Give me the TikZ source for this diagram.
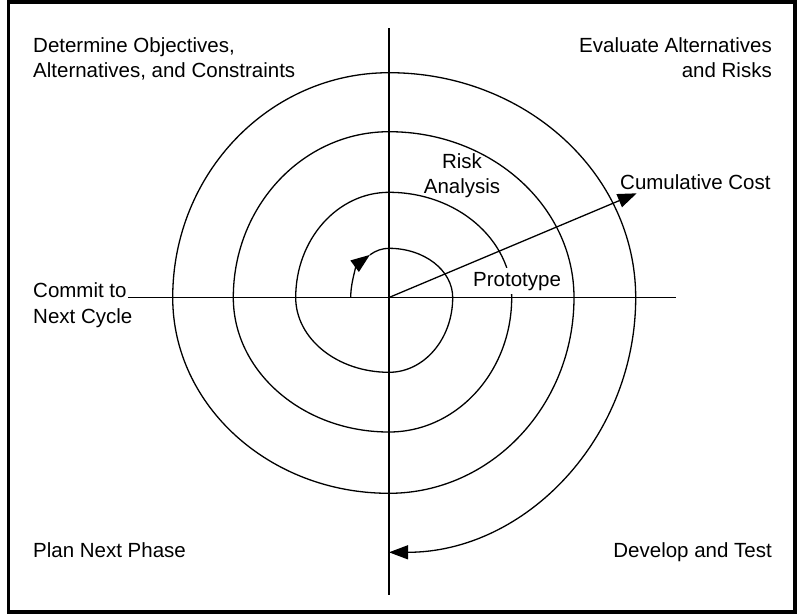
\documentclass[tikz,border=0pt]{standalone}
\usepackage{fontspec}
\setmainfont{Liberation Sans}
\usetikzlibrary{arrows.meta}
\begin{document}
\begin{tikzpicture}[x=1pt,y=1pt,
  lbl/.style={inner sep=0pt, font=\fontsize{20.5}{25}\selectfont},
  ln/.style={line width=1.3pt, black},
  tipend/.style={-{Triangle[length=19pt,width=14pt]}}]
\useasboundingbox (0,0) rectangle (800,-614);
\draw[line width=3.5pt] (8.5,-2) rectangle (795,-612);
\coordinate (O) at (389,-297.5);
\coordinate (vt) at (389,-28);
\coordinate (vb) at (389,-595);
\coordinate (hr) at (676,-297.5);
\coordinate (cc) at (636.7,-193.3);
\coordinate (s0) at (350.7,-297.5);
% axes
\draw[ln] (vt) -- (vb);
\node[lbl, anchor=base west] (commit1) at (33,-297.5) {Commit to};
\node[lbl, anchor=base west] (commit2) at (33,-323) {Next Cycle};
\draw[ln] ([xshift=1pt]commit1.base east) -- (hr);
% spiral
\draw[ln, tipend] (s0) arc[start angle=180, end angle=120, x radius=38.3, y radius=49.2] coordinate (a1);
\draw[ln, tipend] (a1)
  arc[start angle=120, end angle=90,  x radius=38.3,  y radius=49.2]
  arc[start angle=90,  end angle=0,   x radius=63.7,  y radius=49.2]
  arc[start angle=0,   end angle=-90, x radius=63.7,  y radius=74.8]
  arc[start angle=-90, end angle=-180,x radius=93.3,  y radius=74.8]
  arc[start angle=180, end angle=90,  x radius=93.3,  y radius=105.2]
  arc[start angle=90,  end angle=0,   x radius=122.7, y radius=105.2]
  arc[start angle=0,   end angle=-90, x radius=122.7, y radius=134.5]
  arc[start angle=-90, end angle=-180,x radius=155.7, y radius=134.5]
  arc[start angle=180, end angle=90,  x radius=155.7, y radius=165.8]
  arc[start angle=90,  end angle=0,   x radius=185,   y radius=165.8]
  arc[start angle=0,   end angle=-90, x radius=185,   y radius=195.8]
  arc[start angle=-90, end angle=-180,x radius=216.3, y radius=195.8]
  arc[start angle=180, end angle=90,  x radius=216.3, y radius=224.8]
  arc[start angle=90,  end angle=0,   x radius=246.7, y radius=224.8]
  arc[start angle=0,   end angle=-90, x radius=246.7, y radius=254.8];
% labels
\node[lbl, anchor=base west] (det1) at (33,-52) {Determine Objectives,};
\node[lbl, anchor=base west] (det2) at (33,-77) {Alternatives, and Constraints};
\node[lbl, anchor=base east] (ev1) at (772,-52) {Evaluate Alternatives};
\node[lbl, anchor=base east] (ev2) at (772,-77) {and Risks};
\node[lbl, anchor=base] (risk1) at (462,-168) {Risk};
\node[lbl, anchor=base] (risk2) at (462,-193) {Analysis};
\node[lbl, anchor=base west] (cum) at (620,-189) {Cumulative Cost};
\node[lbl, anchor=base west, fill=white, inner xsep=2pt, inner ysep=3.5pt] (proto) at (471,-286) {Prototype};
\node[lbl, anchor=base west] (plan) at (33,-557) {Plan Next Phase};
\node[lbl, anchor=base east] (dev) at (772,-557) {Develop and Test};
% cumulative cost arrow
\draw[ln, tipend] (O) -- (cc);
\end{tikzpicture}
\end{document}
